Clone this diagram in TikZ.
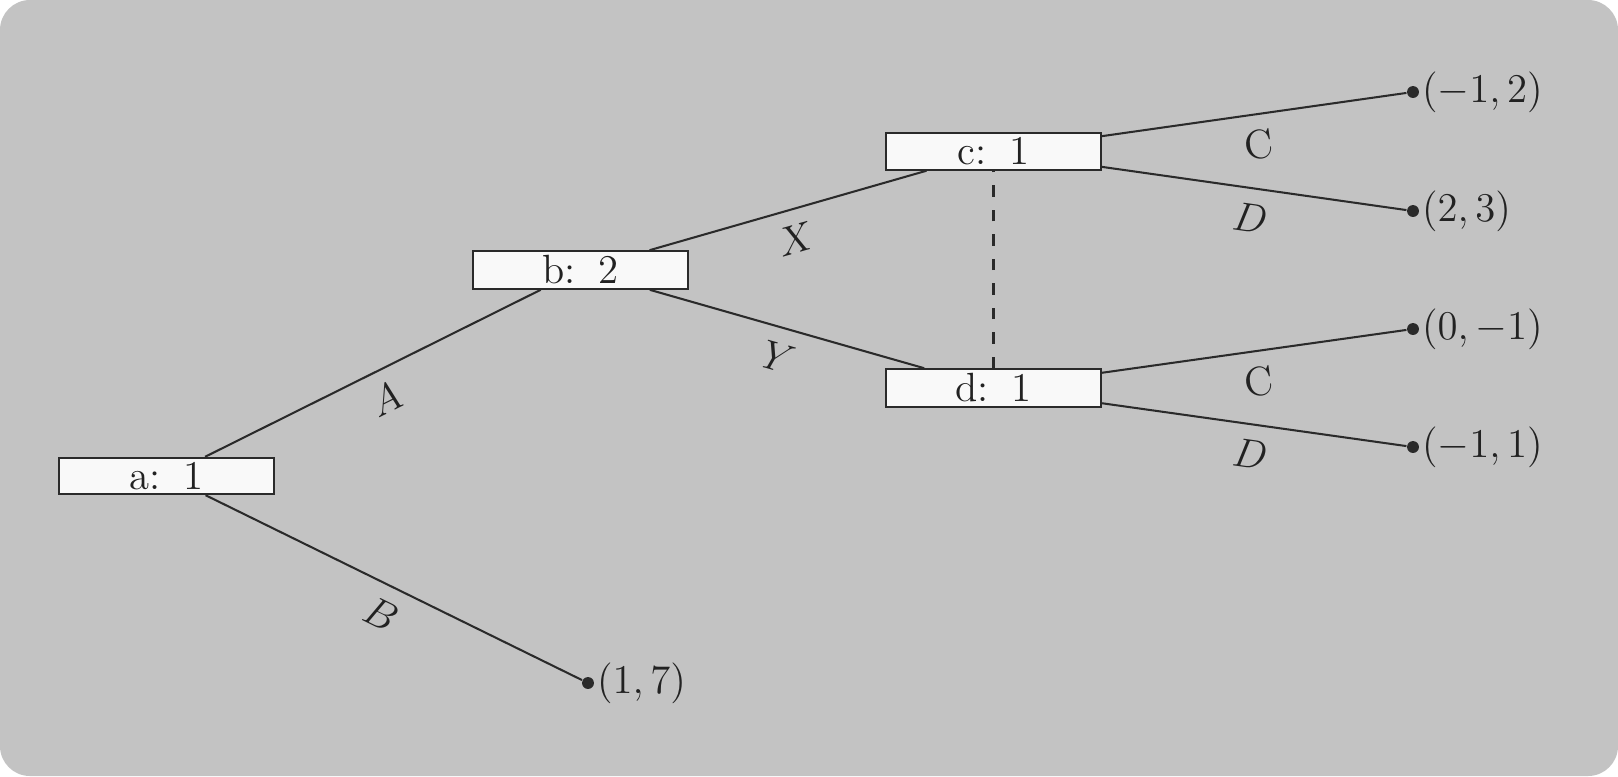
\documentclass[tikz,border=0pt]{standalone}
\definecolor{bgc}{HTML}{C3C3C3}
\definecolor{boxfill}{HTML}{F9F9F9}
\definecolor{linec}{HTML}{2A2A2A}
\definecolor{textc}{HTML}{222222}
\begin{document}
\begin{tikzpicture}[x=0.294pt,y=-0.294pt,
  box/.style={draw=linec, fill=boxfill, line width=0.6pt, minimum width=63.2pt, inner xsep=2pt, inner ysep=1.3pt, text=textc, font=\large},
  leaf/.style={circle, fill=linec, inner sep=0pt, minimum size=3.5pt},
  edge/.style={draw=linec, line width=0.6pt},
  elab/.style={below, sloped, inner sep=4.3pt, font=\large, text=textc},
  plab/.style={right, inner sep=0.5pt, font=\large, text=textc}]
\useasboundingbox (0,0) rectangle (1618,776);
\fill[white] (0,0) rectangle (1618,776);
\fill[bgc, rounded corners=8.8pt] (0,0) rectangle (1618,776);

\node[box] (a) at (166.5,476) {a:\hspace{0.56em}1};
\node[box] (b) at (580.5,270) {b:\hspace{0.56em}2};
\node[box] (c) at (993.5,151.5) {c:\hspace{0.56em}1};
\node[box] (d) at (993.5,388) {d:\hspace{0.56em}1};

\node[leaf] (p17) at (588,683) {};
\node[leaf] (q1) at (1413,92) {};
\node[leaf] (q2) at (1413,211) {};
\node[leaf] (q3) at (1413,329) {};
\node[leaf] (q4) at (1413,447) {};

\node[plab] (t17) at (p17.east) {$(1,7)$};
\node[plab] (t1) at (q1.east) {$(-1,2)$};
\node[plab] (t2) at (q2.east) {$(2,3)$};
\node[plab] (t3) at (q3.east) {$(0,-1)$};
\node[plab] (t4) at (q4.east) {$(-1,1)$};

\draw[edge] (a) -- node[elab] {$A$} (b);
\draw[edge] (a) -- node[elab] {$B$} (p17);
\draw[edge] (b) -- node[elab] {$X$} (c);
\draw[edge] (b) -- node[elab] {$Y$} (d);
\draw[edge] (c) -- node[elab] {C} (q1);
\draw[edge] (c) -- node[elab] {$D$} (q2);
\draw[edge] (d) -- node[elab] {C} (q3);
\draw[edge] (d) -- node[elab] {$D$} (q4);
\draw[edge, dash pattern=on 3.4pt off 3.8pt] (d) -- (c);
\end{tikzpicture}
\end{document}
